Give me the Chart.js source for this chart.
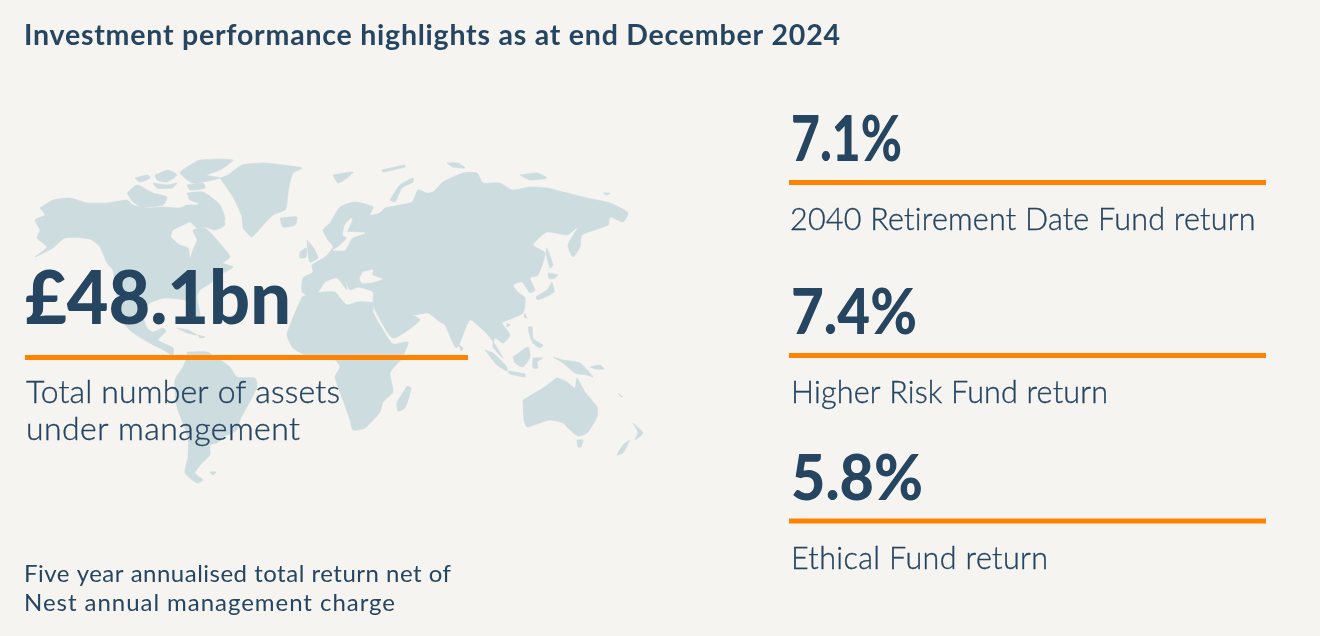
<!DOCTYPE html>
<html><head><meta charset="utf-8">
<style>html,body{margin:0;padding:0;background:#f5f4f1}canvas{display:block}</style>
<script src="https://cdn.jsdelivr.net/npm/chart.js@4"></script></head>
<body><div style="width:1320px;height:636px"><canvas id="c" width="1320" height="636"></canvas></div>
<script>
const chartTitle = 'Investment performance highlights as at end December 2024';
const headlineValue = '£48.1bn';
const headlineLabels = ['Total number of assets', 'under management'];
const fundValues = ['7.1%', '7.4%', '5.8%'];
const fundLabels = ['2040 Retirement Date Fund return', 'Higher Risk Fund return', 'Ethical Fund return'];
const footnoteLines = ['Five year annualised total return net of', 'Nest annual management charge'];

const northAmerica = [40,208,53,200,70,198,87,203,107,203,127,200,133,205,148,208,163,207,180,208,187,205,197,205,202,202,213,208,223,218,225,225,215,230,205,227,197,228,190,222,183,225,173,230,171,237,180,245,188,248,190,258,193,250,197,240,193,230,205,228,217,240,223,247,230,257,223,263,233,267,225,272,217,273,212,282,200,290,197,297,200,315,196,318,190,305,185,300,165,298,150,303,143,315,147,328,153,332,163,328,166,331,158,340,163,343,173,348,173,357,167,352,148,342,132,332,123,322,117,297,113,270,107,263,100,247,90,239,65,238,53,248,35,257,47,247,37,238,40,230,35,220,45,215];
const southAmerica = [187,352,207,352,217,358,230,367,237,377,255,378,257,387,247,407,240,420,237,430,223,437,217,443,210,445,210,455,202,463,195,473,203,480,197,483,185,473,188,457,188,437,177,407,175,380,183,367,187,357];
const africa = [302,297,292,320,287,335,293,348,310,357,333,358,340,367,335,377,343,400,350,420,353,430,365,428,380,412,383,402,393,392,390,373,402,358,408,342,393,344,383,330,373,312,373,303,357,302,347,305,340,298,335,292,313,293];
const eurasia = [307,295,318,292,325,282,337,278,347,290,345,279,350,290,358,287,373,292,373,303,375,310,393,338,420,320,408,313,398,307,413,315,428,313,440,322,445,325,455,347,458,347,470,320,483,330,492,340,503,358,493,347,495,338,503,343,510,335,502,323,508,320,523,313,525,298,518,292,513,285,522,282,530,293,535,290,530,278,538,275,545,253,533,245,547,232,567,235,578,227,568,245,573,257,580,247,582,235,608,225,610,217,623,222,628,213,610,203,587,198,563,192,547,188,530,187,512,190,500,183,483,183,477,173,463,173,443,182,433,192,427,193,418,190,412,202,385,208,380,213,370,215,373,207,355,202,340,207,330,223,323,230,328,240,333,247,325,257,312,265,313,272,303,278,302,292];
const greenland = [220,178,228,175,242,165,263,163,283,165,302,168,293,173,290,182,288,193,287,203,285,210,273,215,265,223,252,237,247,233,243,228,242,217,238,207,233,197,227,188];
const islands = [
 [187,193,203,192,220,205,225,220,210,207,190,200],
 [127,193,137,185,153,193,167,197,163,205,143,207,133,202],
 [135,178,148,175,150,178,140,182],
 [155,175,168,170,177,175,167,182,157,180],
 [153,183,167,185,177,183,172,188,157,188],
 [187,167,200,160,233,160,220,170,207,175,220,178,193,183,180,173],
 [187,185,203,183,205,188,190,190],
 [280,218,297,217,295,225,283,227],
 [177,328,188,330,197,335,187,333],
 [198,335,205,337,200,338],
 [210,472,216,472,213,475],
 [307,240,313,247,318,258,310,262,308,253],
 [300,252,306,248,306,257,300,258],
 [390,200,400,185,413,178,413,182,402,188,395,202],
 [333,175,353,172,347,178,338,183],
 [447,163,458,163,465,168,453,167],
 [382,170,405,165,405,167,383,172],
 [520,175,537,173,547,178,530,180],
 [603,193,610,193,607,195],
 [547,248,553,265,550,268,546,253],
 [548,273,558,275,553,279,549,278],
 [552,282,554,292,538,300,536,297,547,290],
 [525,313,527,318,524,317],
 [507,323,510,325,507,327],
 [528,327,532,327,533,338,538,342,543,345,540,348,533,343,529,333],
 [513,357,528,347,530,357,523,367,515,363],
 [485,350,493,353,507,367,507,371,497,365],
 [508,371,525,374,525,377,510,374],
 [533,358,543,358,537,362,538,368,533,368],
 [553,357,563,360,580,363,593,377,587,375,575,373,563,363],
 [459,345,463,348,461,351],
 [407,386,411,388,405,408,398,411,397,403],
 [523,400,543,388,550,383,557,378,567,382,575,388,577,378,585,392,597,407,597,417,587,433,578,436,568,428,563,423,550,420,537,424,527,427,524,420],
 [577,440,583,440,581,447,578,447],
 [633,423,643,433,635,440,638,432],
 [630,440,623,453,617,455,623,445],
 [618,393,623,397,620,396],
 [590,367,600,365,604,369,595,369]
];
const inlandSeas = [
 [363,272,373,270,372,275,382,279,373,282,362,283,360,278],
 [351,218,345,225,343,235,347,238,338,247,333,250,345,250,352,238,365,233,350,232,347,232,352,220]
];

// layout (canvas units of the two hidden linear scales)
const INK='#264560', ORANGE='#ff8300', LAND='#cddcdf', BG='#f5f4f1';
const ruleSpans=[[25,468,357.5],[789,1266,182.5],[789,1266,355.5],[789,1266,521]];
const toPts=a=>{const p=[];for(let i=0;i<a.length;i+=2)p.push({x:a[i],y:a[i+1]});p.push({x:a[0],y:a[1]});return p;};
const land=(a,c)=>({data:toPts(a),showLine:true,fill:'shape',backgroundColor:c,borderColor:c,borderWidth:0.6,pointRadius:0,tension:0.2});
// Chart.js paints the first dataset on top, so rules come first and land last
const datasets=[...ruleSpans.map(r=>({data:[{x:r[0],y:r[2]},{x:r[1],y:r[2]}],showLine:true,borderColor:ORANGE,borderWidth:5,pointRadius:0,fill:false})),
 ...inlandSeas.map(a=>land(a,BG)),...[northAmerica,southAmerica,africa,eurasia,greenland,...islands].map(a=>land(a,LAND))];

const L='Lato';
// text, x, baseline y, font, width, mode: 'squeeze' = fit width by horizontal scale, number = extra stroke
const texts=[
 [chartTitle,24,45,'700 28.5px '+L,816],
 [headlineValue,25,324,'900 74px '+L,266,'squeeze'],
 [headlineLabels[0],26,403,'300 32px '+L,314,0.35],
 [headlineLabels[1],26,440,'300 32px '+L,274,0.35],
 [fundValues[0],791,161,'900 63px '+L,111,'squeeze'],
 [fundValues[1],791,334,'900 63px '+L,126,'squeeze'],
 [fundValues[2],791,500,'900 63px '+L,132,'squeeze'],
 [fundLabels[0],790,230,'300 30.5px '+L,466,0.35],
 [fundLabels[1],791,403,'300 30.5px '+L,317,0.35],
 [fundLabels[2],791,569,'300 30.5px '+L,257,0.35],
 [footnoteLines[0],24,582,'400 24px '+L,427],
 [footnoteLines[1],24,611,'400 24px '+L,371]
];
const textPlugin={id:'texts',afterDatasetsDraw(ch){
 const {ctx,scales:{x,y}}=ch;ctx.save();ctx.fillStyle=INK;ctx.strokeStyle=INK;ctx.textBaseline='alphabetic';ctx.textAlign='left';
 for(const [t,px,py,f,w,mode] of texts){ctx.font=f;ctx.fontKerning='auto';ctx.letterSpacing='0px';
  const n=ctx.measureText(t).width,X=x.getPixelForValue(px),Y=y.getPixelForValue(py);
  if(mode==='squeeze'){ctx.save();ctx.translate(X,Y);ctx.scale(w/n,1);ctx.fillText(t,0,0);ctx.restore();continue;}
  ctx.letterSpacing=((w-n)/(t.length-1)).toFixed(3)+'px';ctx.fillText(t,X,Y);
  if(typeof mode==='number'){ctx.lineWidth=mode;ctx.strokeText(t,X,Y);}
 }
 ctx.restore();}};
const bgPlugin={id:'bg',beforeDraw(ch){const c=ch.ctx;c.save();c.fillStyle=BG;c.fillRect(0,0,ch.width,ch.height);c.restore();}};
document.fonts.load('900 60px Lato').finally(()=>{
new Chart(document.getElementById('c'),{type:'scatter',data:{datasets},plugins:[bgPlugin,textPlugin],options:{
 responsive:false,animation:false,devicePixelRatio:1,layout:{padding:0},
 plugins:{legend:{display:false},tooltip:{enabled:false},title:{display:false}},
 scales:{x:{type:'linear',min:0,max:1320,display:false},y:{type:'linear',min:0,max:636,reverse:true,display:false}}
}});
});
</script></body></html>
